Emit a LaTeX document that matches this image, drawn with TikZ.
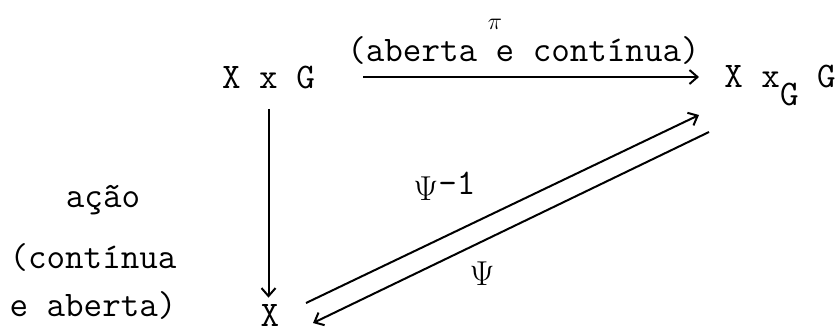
\documentclass[tikz,border=0pt]{standalone}
\usepackage{tikz}
\usetikzlibrary{arrows.meta,calc}
\tikzset{
  obj/.style={
    inner sep=0pt,
    anchor=base,
    font=\fontsize{18}{22}\selectfont\ttfamily
  },
  note/.style={
    inner sep=0pt,
    anchor=base,
    font=\fontsize{18}{22}\selectfont\ttfamily
  },
  morph/.style={
    -{Straight Barb[length=4pt,width=7pt]},
    line width=1pt
  }
}

\begin{document}
\begin{tikzpicture}[x=0.5pt,y=-0.5pt]
\useasboundingbox (0,0) rectangle (838,333);

\node[obj] (prod) at (268.5,88) {X x G};
\node[obj, anchor=base west] (quot) at (724,87) {X x\raisebox{-9pt}{G} G};
\node[obj] (base) at (270,326) {X};

% labels
\node[note, font=\fontsize{13}{15}\selectfont] (pi) at (495,29) {$\pi$};
\node[note] (pidesc) at (523.5,61) {(aberta e contínua)};
\node[note] (acao) at (103,207) {ação};
\node[note] (acaoa) at (93,268) {(contínua};
\node[note] (acaob) at (93,316) {e aberta)};
\node[note, anchor=base west] (psiinv) at (413,200)
  {\fontsize{17}{20}\selectfont$\Psi$\fontsize{18}{22}\selectfont\raisebox{3pt}{-1}};
\node[note, font=\fontsize{17}{20}\selectfont] (psi) at (482,285) {$\Psi$};

\draw[morph] ([xshift=24pt]prod.east) -- ([xshift=-12.5pt]prod.east -| quot.west);
\draw[morph] ([yshift=-10pt]prod.south) -- ([yshift=3pt]prod.south |- base.north);
\draw[morph] ($(base.base)+(36,-23)$) -- ($(quot.base west)+(-25,28)$);
\draw[morph] ($(quot.base west)+(-15,45)$) -- ($(base.base)+(43,-3)$);

\end{tikzpicture}
\end{document}
